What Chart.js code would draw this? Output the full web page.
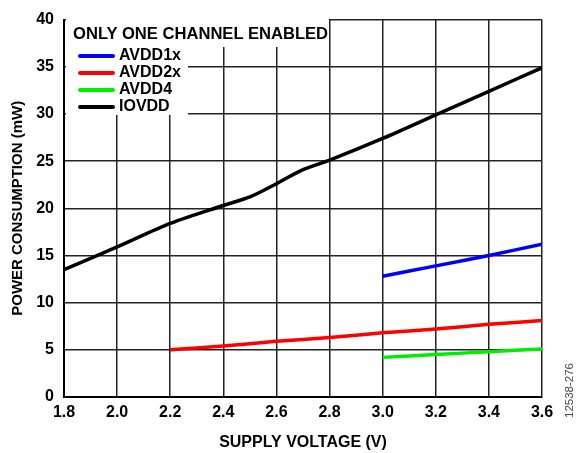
<!DOCTYPE html>
<html>
<head>
<meta charset="utf-8">
<script src="https://cdn.jsdelivr.net/npm/chart.js@4.4.1/dist/chart.umd.min.js"></script>
<style>
  html, body { margin: 0; padding: 0; background: #fff; }
  #wrap { position: relative; width: 581px; height: 453px; font-family: "Liberation Sans", Arial, sans-serif; font-weight: bold; font-size: 16px; color: #000; }
  .box { position: absolute; background: #fff; }
  .title { position: absolute; left: 73px; top: 25px; line-height: 18px; font-size: 16.6px; }
  .item { position: absolute; left: 78px; height: 17px; line-height: 17px; white-space: nowrap; }
  .item span { display: inline-block; width: 37px; height: 3.5px; vertical-align: middle; margin-right: 4px; border-radius: 2px; }
  #code { position: absolute; left: 563px; top: 418px; transform: rotate(-90deg); transform-origin: 0 0; font-size: 11.5px; font-weight: normal; color: #444; white-space: nowrap; }
</style>
</head>
<body>
<div id="wrap">
  <canvas id="chart" width="581" height="453"></canvas>
  <div class="box" style="left:66px; top:18px; width:263px; height:29px"></div>
  <div class="box" style="left:66px; top:47px; width:122px; height:68px"></div>
  <div class="title">ONLY ONE CHANNEL ENABLED</div>
  <div class="item" style="top:46px"><span style="background:#0000ff"></span>AVDD1x</div>
  <div class="item" style="top:63px"><span style="background:#ff0000"></span>AVDD2x</div>
  <div class="item" style="top:80px"><span style="background:#00ee00"></span>AVDD4</div>
  <div class="item" style="top:97px"><span style="background:#000000"></span>IOVDD</div>
  <div id="code">12538-276</div>
</div>
<script>
// supply voltage (V) / power (mW) per rail
const avdd1xV = [3.0, 3.2, 3.4, 3.6]
const avdd1xP = [12.8, 13.9, 15.0, 16.2]
const avdd2xV = [2.2, 2.4, 2.6, 2.8, 3.0, 3.2, 3.4, 3.6]
const avdd2xP = [5.0, 5.4, 5.9, 6.3, 6.8, 7.2, 7.7, 8.1]
const avdd4V = [3.0, 3.2, 3.4, 3.6]
const avdd4P = [4.2, 4.5, 4.8, 5.1]
const iovddV = [1.8, 2.0, 2.2, 2.4, 2.5, 2.6, 2.7, 2.8, 3.0, 3.2, 3.4, 3.6]
const iovddP = [13.5, 15.9, 18.4, 20.3, 21.2, 22.6, 24.1, 25.1, 27.4, 29.9, 32.4, 34.9]

const toPoints = (xs, ys) => xs.map((x, i) => ({ x, y: ys[i] }))
const font = { family: 'Liberation Sans', weight: 'bold', size: 16 }

const series = [
  { label: 'AVDD1x', v: avdd1xV, p: avdd1xP, color: '#0000ff' },
  { label: 'AVDD2x', v: avdd2xV, p: avdd2xP, color: '#ff0000' },
  { label: 'AVDD4', v: avdd4V, p: avdd4P, color: '#00ee00' },
  { label: 'IOVDD', v: iovddV, p: iovddP, color: '#000000' }
]

new Chart(document.getElementById('chart'), {
  type: 'line',
  data: {
    datasets: series.map(s => ({
      label: s.label,
      data: toPoints(s.v, s.p),
      borderColor: s.color,
      borderWidth: 3.5,
      pointRadius: 0,
      tension: 0.3,
      fill: false
    }))
  },
  options: {
    responsive: false,
    animation: false,
    layout: { padding: { top: 16, right: 39, left: 0, bottom: 0 } },
    plugins: { legend: { display: false }, tooltip: { enabled: false } },
    scales: {
      x: {
        type: 'linear',
        min: 1.8,
        max: 3.6,
        afterFit: axis => { axis.height = 56 },
        ticks: { stepSize: 0.2, color: '#000', font, padding: 6, callback: v => v.toFixed(1) },
        grid: { color: '#222', lineWidth: 1.5, drawTicks: false },
        border: { color: '#000', width: 2 },
        title: { display: true, text: 'SUPPLY VOLTAGE (V)', color: '#000', font, padding: { top: 0, bottom: 1 } }
      },
      y: {
        min: 0,
        max: 40,
        afterFit: axis => { axis.width = 64 },
        ticks: { stepSize: 5, color: '#000', font, padding: 10 },
        grid: { color: '#222', lineWidth: 1.5, drawTicks: false },
        border: { color: '#000', width: 2 },
        title: { display: true, text: 'POWER CONSUMPTION (mW)', color: '#000', font: { ...font, size: 15 }, padding: { top: 9, bottom: 0 } }
      }
    }
  }
})
</script>
</body>
</html>
